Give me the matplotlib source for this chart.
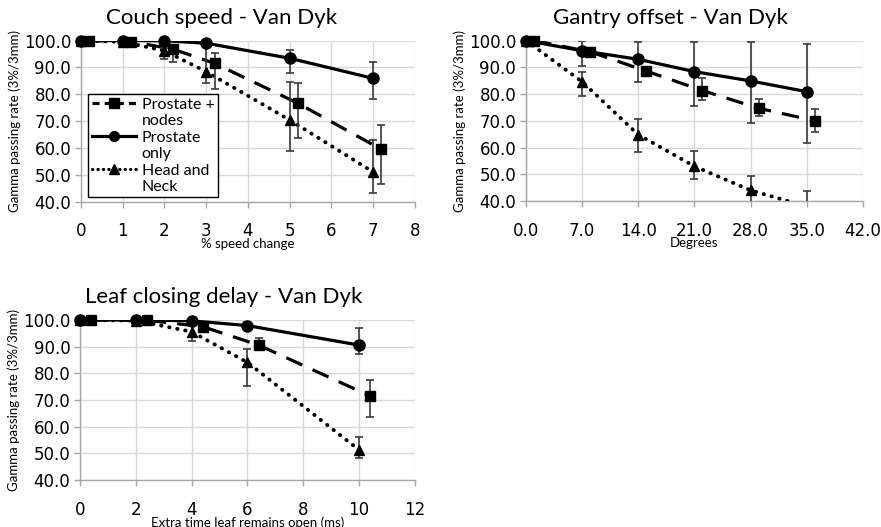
import matplotlib
matplotlib.use("Agg")
import matplotlib.pyplot as plt
from matplotlib.lines import Line2D
import numpy as np

# ---- data ----
# Couch speed
couch_x = [0, 1, 2, 3, 5, 7]
couch_sq_x = [0.2, 1.2, 2.2, 3.2, 5.2, 7.2]
couch_nodes = [100, 99.6, 96.8, 91.5, 76.6, 59.4]
couch_nodes_lo = [0, 0.3, 4.7, 9.7, 13.0, 12.9]
couch_nodes_hi = [0, 0.3, 1.5, 3.7, 7.4, 9.3]
couch_prost = [100, 100, 99.9, 99.0, 93.4, 85.9]
couch_prost_lo = [0, 0, 0, 0.5, 5.6, 7.8]
couch_prost_hi = [0, 0, 0, 0.5, 3.1, 6.2]
couch_hn = [100, 99.5, 96.2, 88.4, 70.4, 51.0]
couch_hn_lo = [0, 0.3, 3.0, 4.4, 11.6, 8.0]
couch_hn_hi = [0, 0.3, 1.0, 9.5, 14.3, 11.8]

# Gantry offset
gantry_x = [0, 7, 14, 21, 28, 35]
gantry_sq_x = [1, 8, 15, 22, 29, 36]
gantry_nodes = [100, 95.8, 88.6, 81.3, 74.7, 70.0]
gantry_nodes_lo = [0, 0.8, 1.5, 3.5, 2.8, 4.0]
gantry_nodes_hi = [0, 0.8, 1.5, 4.6, 3.5, 4.4]
gantry_prost = [100, 96.2, 93.0, 88.4, 84.9, 80.9]
gantry_prost_lo = [0, 5.6, 8.4, 12.8, 15.8, 19.2]
gantry_prost_hi = [0, 3.6, 6.6, 11.2, 14.7, 18.0]
gantry_hn = [100, 84.6, 64.8, 53.0, 44.0, 38.0]
gantry_hn_lo = [0, 5.5, 6.6, 4.7, 6.0, 5.0]
gantry_hn_hi = [0, 3.8, 5.8, 5.6, 5.2, 5.6]

# Leaf closing delay
leaf_x = [0, 2, 4, 6, 10]
leaf_sq_x = [0.4, 2.4, 4.4, 6.4, 10.4]
leaf_nodes = [100, 99.9, 97.5, 90.6, 71.5]
leaf_nodes_lo = [0, 0, 0.8, 1.8, 7.8]
leaf_nodes_hi = [0, 0, 0.8, 2.8, 6.0]
leaf_prost = [100, 100, 99.7, 97.9, 90.6]
leaf_prost_lo = [0, 0, 0.3, 1.5, 3.5]
leaf_prost_hi = [0, 0, 0.3, 1.5, 6.5]
leaf_hn = [100, 99.8, 95.6, 84.1, 51.3]
leaf_hn_lo = [0, 0, 3.5, 8.9, 2.9]
leaf_hn_hi = [0, 0, 2.5, 5.0, 5.0]

yticks = [40, 50, 60, 70, 80, 90, 100]
ylabel = "Gamma passing rate (3%/3mm)"
legend_lines = ["Prostate +", "nodes", "Prostate", "only", "Head and", "Neck"]

GRID = "#d9d9d9"
AXIS = "#a6a6a6"
EBAR = "#3a3a3a"
TITLE_FONT = "Lato"
TICK_FONT = "DejaVu Sans"

fig = plt.figure(figsize=(8.81, 5.27), dpi=100)


def draw_series(ax, x, y, lo, hi, style, marker, ms):
    y = np.array(y, dtype=float)
    if style == "dash":
        ax.plot(x, y, color="black", lw=2.3, dashes=(5.5, 3.5), zorder=3)
    elif style == "solid":
        ax.plot(x, y, color="black", lw=2.3, zorder=3)
    else:
        ax.plot(x, y, color="black", lw=2.8, dashes=(0.1, 2.0),
                dash_capstyle="round", zorder=3)
    ax.errorbar(x, y, yerr=[lo, hi], fmt="none", ecolor=EBAR, elinewidth=1.2,
                capsize=3, capthick=1.2, zorder=4)
    ym = np.ma.masked_less(y, 40)
    ax.plot(x, ym, linestyle="none", marker=marker, ms=ms, color="black",
            zorder=5, clip_on=False)


def style_axes(ax, xticks, xfmt):
    ax.set_ylim(40, 100)
    ax.set_xlim(xticks[0], xticks[-1])
    ax.set_yticks(yticks)
    ax.set_yticklabels([f"{v:.1f}" for v in yticks], fontsize=12,
                       family=TICK_FONT)
    ax.set_xticks(xticks)
    ax.set_xticklabels([xfmt(v) for v in xticks], fontsize=12,
                       family=TICK_FONT)
    ax.grid(True, color=GRID, lw=1.0)
    ax.set_axisbelow(True)
    for s in ["top", "right"]:
        ax.spines[s].set_visible(False)
    for s in ["left", "bottom"]:
        ax.spines[s].set_color(AXIS)
        ax.spines[s].set_linewidth(1.0)
    ax.tick_params(axis="both", direction="out", length=4, color=AXIS,
                   width=1.0)
    ax.tick_params(axis="x", pad=11)
    ax.tick_params(axis="y", pad=3)
    ax.set_ylabel(ylabel, fontsize=9.5, family=TITLE_FONT, labelpad=2)


def plot_panel(rect, title, title_xy, xticks, xfmt, xlabel, xs, sqx, data,
               legend=False):
    ax = fig.add_axes(rect)
    (nodes, nlo, nhi), (prost, plo, phi), (hn, hlo, hhi) = data
    draw_series(ax, xs, hn, hlo, hhi, "dot", "^", 7.5)
    draw_series(ax, sqx, nodes, nlo, nhi, "dash", "s", 7.5)
    draw_series(ax, xs, prost, plo, phi, "solid", "o", 8)
    style_axes(ax, xticks, xfmt)
    ax.set_xlabel(xlabel, fontsize=9.5, family=TITLE_FONT, labelpad=-2)
    fig.text(title_xy[0], title_xy[1], title, fontsize=16, family=TITLE_FONT,
             ha="center", va="center")
    if legend:
        blank = Line2D([], [], linestyle="none")
        handles = [
            Line2D([], [], color="black", lw=2.3, dashes=(2.2, 1.6),
                   marker="s", ms=7),
            blank,
            Line2D([], [], color="black", lw=2.3, marker="o", ms=7),
            blank,
            Line2D([], [], color="black", lw=2.3, dashes=(0.1, 1.6),
                   dash_capstyle="round", marker="^", ms=7),
            blank,
        ]
        leg = ax.legend(handles, legend_lines, loc="upper left",
                        bbox_to_anchor=(0.022, 0.665), fancybox=False,
                        framealpha=1, edgecolor="black", handlelength=2.8,
                        handletextpad=0.35, borderpad=0.2, labelspacing=0.14,
                        borderaxespad=0, prop={"family": TITLE_FONT,
                                               "size": 11.5})
        leg.get_frame().set_linewidth(1.0)
        leg.set_zorder(6)
    return ax


plot_panel([0.0919, 0.6176, 0.379, 0.3055], "Couch speed - Van Dyk",
           (0.252, 0.965), list(range(0, 9)), lambda v: f"{v}",
           "% speed change", couch_x, couch_sq_x,
           [(couch_nodes, couch_nodes_lo, couch_nodes_hi),
            (couch_prost, couch_prost_lo, couch_prost_hi),
            (couch_hn, couch_hn_lo, couch_hn_hi)], legend=True)

plot_panel([0.597, 0.6185, 0.3825, 0.3045], "Gantry offset - Van Dyk",
           (0.761, 0.965), list(range(0, 43, 7)), lambda v: f"{v:.1f}",
           "Degrees", gantry_x, gantry_sq_x,
           [(gantry_nodes, gantry_nodes_lo, gantry_nodes_hi),
            (gantry_prost, gantry_prost_lo, gantry_prost_hi),
            (gantry_hn, gantry_hn_lo, gantry_hn_hi)])

plot_panel([0.0908, 0.0892, 0.380, 0.3036], "Leaf closing delay - Van Dyk",
           (0.254, 0.437), list(range(0, 13, 2)), lambda v: f"{v}",
           "Extra time leaf remains open (ms)", leaf_x, leaf_sq_x,
           [(leaf_nodes, leaf_nodes_lo, leaf_nodes_hi),
            (leaf_prost, leaf_prost_lo, leaf_prost_hi),
            (leaf_hn, leaf_hn_lo, leaf_hn_hi)])

fig.savefig("out.png", dpi=100)
